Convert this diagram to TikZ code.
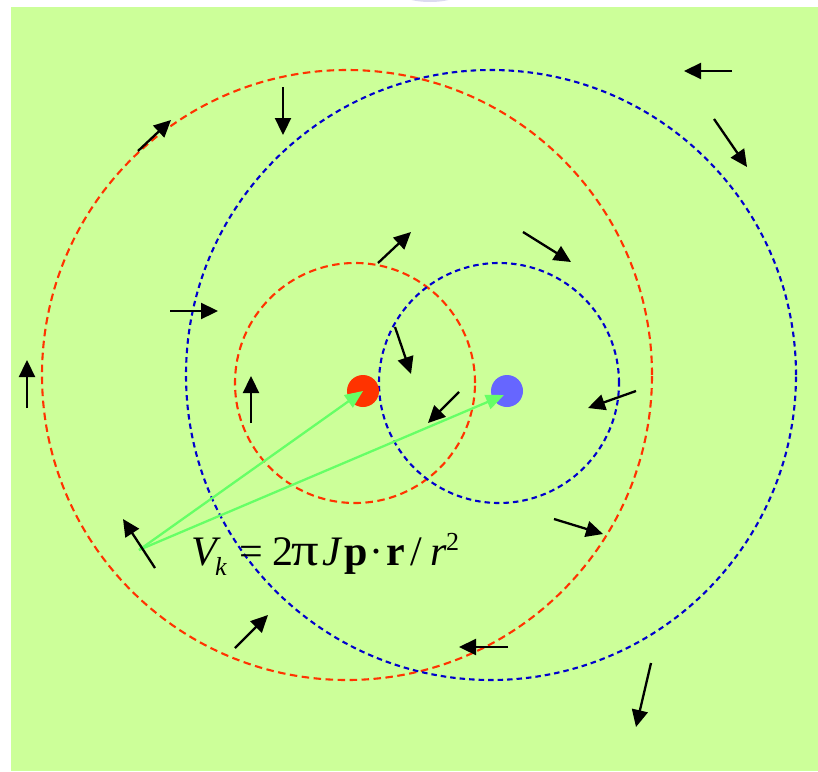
\documentclass[tikz,border=0pt]{standalone}
\usepackage{fontspec}
\usepackage{graphicx}
\newfontfamily\fm{Liberation Serif}
\usetikzlibrary{arrows.meta,calc}
\definecolor{bg}{RGB}{204,255,153}
\definecolor{rc}{RGB}{255,51,0}
\definecolor{bc}{RGB}{0,0,204}
\definecolor{bd}{RGB}{102,102,255}
\definecolor{gl}{RGB}{102,255,102}
\definecolor{lav}{RGB}{220,218,240}
\begin{document}
\begin{tikzpicture}[x=1pt,y=-1pt,
 field/.style={line width=2.3pt,-{Triangle[length=17pt,width=16pt]}},
 redc/.style={rc,line width=2.1pt,dash pattern=on 7.5pt off 4.5pt},
 bluec/.style={bc,line width=2.1pt,dash pattern=on 5.5pt off 4pt},
 vec/.style={gl,line width=2.3pt,-{Triangle[length=18pt,width=15pt]}},
 dot/.style={circle,minimum size=32pt,inner sep=0pt}]
\clip (0,0) rectangle (818,771);
\fill[white] (0,0) rectangle (818,771);
\fill[lav] (430,-6) ellipse[x radius=28pt,y radius=8pt];
\fill[bg] (11,7) rectangle (818,771);
% field lines
\draw[redc] (347,375) circle[radius=305pt];
\draw[bluec] (491,375) circle[radius=305pt];
\draw[redc] (355,383) circle[radius=120pt];
\draw[bluec] (499,383) circle[radius=120pt];
% charges
\node[dot,fill=rc] (rdot) at (363,391) {};
\node[dot,fill=bd] (bdot) at (507,391) {};
\coordinate (src) at (139,550);
\draw[vec] (src) -- (rdot.center);
\draw[vec] (src) -- ($(bdot.center)+(-3,4)$);
% field vectors
\foreach \ax/\ay/\bx/\by in {138/151/171/120, 283/87/283/135, 170/311/218/311,
  27/408/27/360, 732/71/684/71, 714/119/747/167, 378/263/411/232,
  523/232/571/262, 395/327/411/374, 251/423/251/376, 459/392/428/423,
  636/391/588/408, 155/568/123/519, 554/519/603/534, 235/648/268/615,
  508/647/459/647, 651/663/636/727}
  \draw[field] (\ax,\ay) -- (\bx,\by);
% formula
\node[anchor=base west,inner sep=0pt] (formula) at (191,565) {\fm\fontsize{42pt}{44pt}\selectfont
\makebox[24pt][l]{\itshape V}%
\makebox[24pt][l]{\raisebox{-10pt}{\fontsize{26pt}{26pt}\selectfont\itshape k}}%
\makebox[33pt][l]{=}%
\makebox[19pt][l]{2}%
\makebox[31pt][l]{\scalebox{1.3}[1.1]{π}}%
\makebox[22pt][l]{\itshape J}%
\makebox[25pt][l]{\bfseries p}%
\makebox[17pt][l]{·}%
\makebox[24pt][l]{\bfseries r}%
\makebox[20pt][l]{/}%
\makebox[16pt][l]{\itshape r}%
\raisebox{15pt}{\fontsize{26pt}{26pt}\selectfont 2}};
\end{tikzpicture}
\end{document}
